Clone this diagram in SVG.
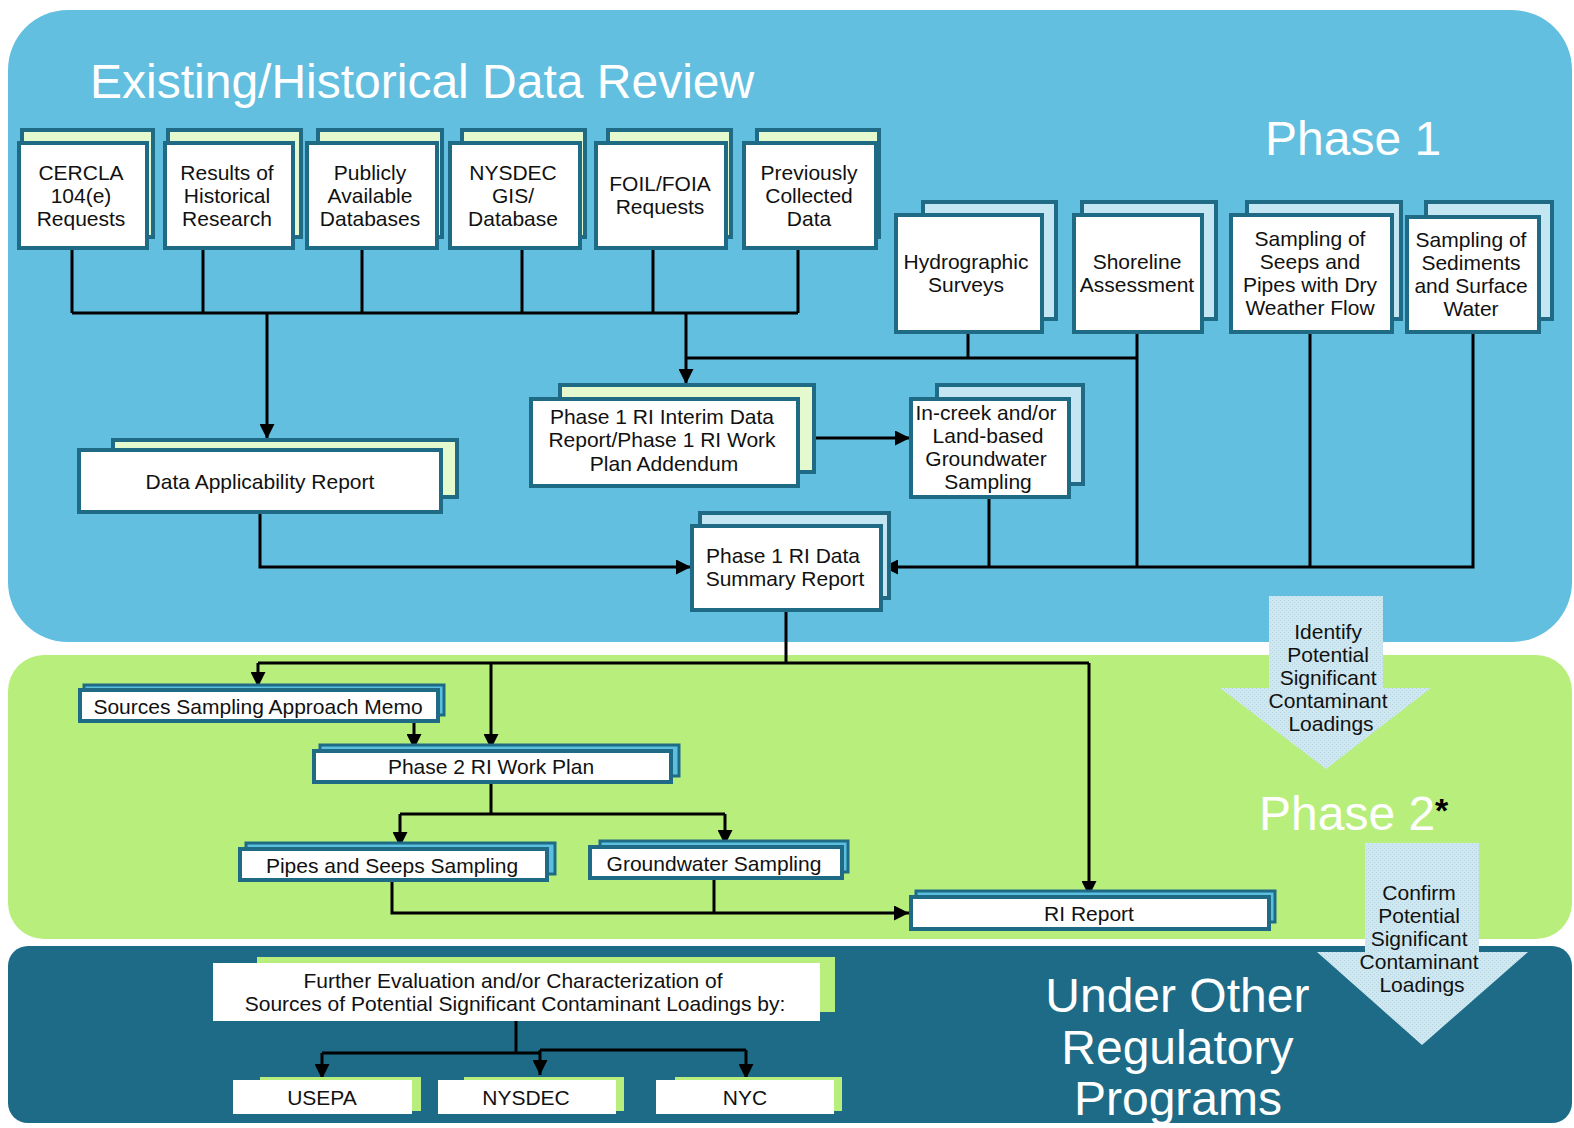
<svg xmlns="http://www.w3.org/2000/svg" width="1574" height="1128" viewBox="0 0 1574 1128">
  <style>
    text { font-family: "Liberation Sans", Arial, sans-serif; }
    .lbl { font-size: 21px; fill: #111; text-anchor: middle; }
    .big { font-size: 48px; fill: #ffffff; }
    .front { fill: #ffffff; stroke: #1f6a85; stroke-width: 4; }
    .backG { fill: #e4f9cd; stroke: #1f6a85; stroke-width: 4; }
    .backB { fill: #c3e6f2; stroke: #1f6a85; stroke-width: 4; }
    .backP { fill: #5bbfe0; stroke: #1f6a85; stroke-width: 3; }
    .plain { fill: #ffffff; }
    .tab { fill: #b8ee7b; }
    .wire { fill: none; stroke: #000; stroke-width: 3; }
    .wire-a { fill: none; stroke: #000; stroke-width: 3; marker-end: url(#arrow); }
    .flow { fill: url(#dots); }
  </style>
  <defs>
    <marker id="arrow" viewBox="0 0 14 14" refX="14" refY="7" markerWidth="15" markerHeight="15" markerUnits="userSpaceOnUse" orient="auto">
      <path d="M0,0 L14,7 L0,14 z" fill="#000"/>
    </marker>
    <pattern id="dots" width="4" height="4" patternUnits="userSpaceOnUse">
      <rect width="4" height="4" fill="#cfe7f0"/>
      <rect x="0" y="0" width="1" height="1" fill="#b4d4e0"/>
      <rect x="2" y="2" width="1" height="1" fill="#b4d4e0"/>
    </pattern>
  </defs>

  <!-- background bands -->
  <rect x="8" y="10" width="1564" height="632" rx="60" ry="60" fill="#62bfe0"/>
  <rect x="8" y="655" width="1564" height="284" rx="36" ry="36" fill="#b8ee7b"/>
  <rect x="8" y="946" width="1564" height="177" rx="20" ry="20" fill="#1d6b86"/>

  <!-- band headings -->
  <text class="big" x="90" y="98">Existing/Historical Data Review</text>
  <text class="big" x="1265" y="155" font-size="47">Phase 1</text>
  <text class="big" x="1259" y="830" font-size="47">Phase 2</text>
  <text x="1435" y="822" font-size="34" font-weight="bold" fill="#000">*</text>
  <text class="big" text-anchor="middle">
    <tspan x="1184" y="1012">Under Other</tspan>
    <tspan x="1184" y="1064">Regulatory</tspan>
    <tspan x="1178" y="1115">Programs</tspan>
  </text>

  <!-- phase transition arrows -->
  <g id="identify-loadings">
    <polygon class="flow" points="1269,596 1383,596 1383,688 1431,688 1326,769 1220,688 1269,688"/>
    <text class="lbl">
      <tspan x="1331" y="639">Identify</tspan>
      <tspan x="1331" y="662">Potential</tspan>
      <tspan x="1331" y="685">Significant</tspan>
      <tspan x="1331" y="708">Contaminant</tspan>
      <tspan x="1331" y="731">Loadings</tspan>
    </text>
  </g>
  <g id="confirm-loadings">
    <polygon class="flow" points="1365,843 1479,843 1479,952 1528,952 1422,1045 1317,952 1365,952"/>
    <text class="lbl">
      <tspan x="1422" y="900">Confirm</tspan>
      <tspan x="1422" y="923">Potential</tspan>
      <tspan x="1422" y="946">Significant</tspan>
      <tspan x="1422" y="969">Contaminant</tspan>
      <tspan x="1422" y="992">Loadings</tspan>
    </text>
  </g>

  <!-- connectors -->
  <g id="connectors">
    <path class="wire" d="M72,248 V313 M203,248 V313 M362,248 V313 M522,248 V313 M653,248 V313 M798,248 V313 M72,313 H798"/>
    <path class="wire-a" d="M267,313 V439"/>
    <path class="wire-a" d="M686,313 V384"/>
    <path class="wire" d="M686,358 H1137 M968,332 V358"/>
    <path class="wire" d="M1137,332 V567 M1310,332 V567 M989,497 V567"/>
    <path class="wire-a" d="M1473,332 V567 H883"/>
    <path class="wire-a" d="M260,512 V567 H691"/>
    <path class="wire-a" d="M795,438 H910"/>
    <path class="wire" d="M786,610 V663 M258,663 H1089"/>
    <path class="wire-a" d="M258,663 V687"/>
    <path class="wire-a" d="M491,663 V749"/>
    <path class="wire-a" d="M1089,663 V896"/>
    <path class="wire-a" d="M414,722 V749"/>
    <path class="wire" d="M491,782 V814 M400,814 H725"/>
    <path class="wire-a" d="M400,814 V847"/>
    <path class="wire-a" d="M725,814 V845"/>
    <path class="wire-a" d="M392,880 V913 H909"/>
    <path class="wire" d="M714,878 V913"/>
    <path class="wire" d="M516,1021 V1052 M322,1053 H540 M540,1050 H746"/>
    <path class="wire-a" d="M322,1053 V1079"/>
    <path class="wire-a" d="M540,1050 V1075"/>
    <path class="wire-a" d="M746,1050 V1079"/>
  </g>

  <!-- existing / historical sources -->
  <g id="cercla">
    <rect class="backG" x="22" y="130" width="131" height="107"/>
    <rect class="front" x="19" y="143" width="128" height="105"/>
    <text class="lbl"><tspan x="81" y="180">CERCLA</tspan><tspan x="81" y="203">104(e)</tspan><tspan x="81" y="226">Requests</tspan></text>
  </g>
  <g id="historical-research">
    <rect class="backG" x="168" y="130" width="133" height="107"/>
    <rect class="front" x="165" y="143" width="128" height="105"/>
    <text class="lbl"><tspan x="227" y="180">Results of</tspan><tspan x="227" y="203">Historical</tspan><tspan x="227" y="226">Research</tspan></text>
  </g>
  <g id="public-databases">
    <rect class="backG" x="318" y="130" width="124" height="107"/>
    <rect class="front" x="307" y="143" width="130" height="105"/>
    <text class="lbl"><tspan x="370" y="180">Publicly</tspan><tspan x="370" y="203">Available</tspan><tspan x="370" y="226">Databases</tspan></text>
  </g>
  <g id="nysdec-gis">
    <rect class="backG" x="462" y="130" width="123" height="107"/>
    <rect class="front" x="450" y="143" width="130" height="105"/>
    <text class="lbl"><tspan x="513" y="180">NYSDEC</tspan><tspan x="513" y="203">GIS/</tspan><tspan x="513" y="226">Database</tspan></text>
  </g>
  <g id="foil-foia">
    <rect class="backG" x="608" y="130" width="123" height="107"/>
    <rect class="front" x="596" y="143" width="130" height="105"/>
    <text class="lbl"><tspan x="660" y="191">FOIL/FOIA</tspan><tspan x="660" y="214">Requests</tspan></text>
  </g>
  <g id="previous-data">
    <rect class="backG" x="757" y="130" width="122" height="107"/>
    <rect class="front" x="744" y="143" width="132" height="105"/>
    <text class="lbl"><tspan x="809" y="180">Previously</tspan><tspan x="809" y="203">Collected</tspan><tspan x="809" y="226">Data</tspan></text>
  </g>

  <!-- phase 1 field investigations -->
  <g id="hydrographic">
    <rect class="backB" x="923" y="202" width="133" height="117"/>
    <rect class="front" x="896" y="215" width="146" height="117"/>
    <text class="lbl"><tspan x="966" y="269">Hydrographic</tspan><tspan x="966" y="292">Surveys</tspan></text>
  </g>
  <g id="shoreline">
    <rect class="backB" x="1082" y="202" width="134" height="117"/>
    <rect class="front" x="1074" y="215" width="128" height="117"/>
    <text class="lbl"><tspan x="1137" y="269">Shoreline</tspan><tspan x="1137" y="292">Assessment</tspan></text>
  </g>
  <g id="seeps-pipes">
    <rect class="backB" x="1247" y="202" width="154" height="117"/>
    <rect class="front" x="1231" y="215" width="161" height="117"/>
    <text class="lbl"><tspan x="1310" y="246">Sampling of</tspan><tspan x="1310" y="269">Seeps and</tspan><tspan x="1310" y="292">Pipes with Dry</tspan><tspan x="1310" y="315">Weather Flow</tspan></text>
  </g>
  <g id="sediments-water">
    <rect class="backB" x="1426" y="202" width="126" height="117"/>
    <rect class="front" x="1407" y="217" width="132" height="115"/>
    <text class="lbl"><tspan x="1471" y="247">Sampling of</tspan><tspan x="1471" y="270">Sediments</tspan><tspan x="1471" y="293">and Surface</tspan><tspan x="1471" y="316">Water</tspan></text>
  </g>

  <!-- phase 1 reports -->
  <g id="data-applicability">
    <rect class="backG" x="113" y="440" width="344" height="57"/>
    <rect class="front" x="79" y="450" width="362" height="62"/>
    <text class="lbl" x="260" y="489">Data Applicability Report</text>
  </g>
  <g id="interim-report">
    <rect class="backG" x="560" y="385" width="254" height="87"/>
    <rect class="front" x="531" y="399" width="267" height="87"/>
    <text class="lbl"><tspan x="662" y="424">Phase 1 RI Interim Data</tspan><tspan x="662" y="447">Report/Phase 1 RI Work</tspan><tspan x="664" y="471">Plan Addendum</tspan></text>
  </g>
  <g id="groundwater-phase1">
    <rect class="backB" x="937" y="385" width="146" height="99"/>
    <rect class="front" x="911" y="399" width="158" height="98"/>
    <text class="lbl"><tspan x="986" y="420">In-creek and/or</tspan><tspan x="988" y="443">Land-based</tspan><tspan x="986" y="466">Groundwater</tspan><tspan x="988" y="489">Sampling</tspan></text>
  </g>
  <g id="data-summary">
    <rect class="backB" x="700" y="513" width="189" height="85"/>
    <rect class="front" x="692" y="526" width="189" height="84"/>
    <text class="lbl"><tspan x="783" y="563">Phase 1 RI Data</tspan><tspan x="785" y="586">Summary Report</tspan></text>
  </g>

  <!-- phase 2 -->
  <g id="sources-memo">
    <rect class="backP" x="84" y="685" width="360" height="30"/>
    <rect class="front" x="80" y="690" width="358" height="31"/>
    <text class="lbl" x="258" y="714">Sources Sampling Approach Memo</text>
  </g>
  <g id="phase2-work-plan">
    <rect class="backP" x="320" y="745" width="359" height="31"/>
    <rect class="front" x="314" y="751" width="357" height="31"/>
    <text class="lbl" x="491" y="774">Phase 2 RI Work Plan</text>
  </g>
  <g id="pipes-seeps">
    <rect class="backP" x="246" y="843" width="309" height="31"/>
    <rect class="front" x="240" y="849" width="307" height="31"/>
    <text class="lbl" x="392" y="873">Pipes and Seeps Sampling</text>
  </g>
  <g id="groundwater-phase2">
    <rect class="backP" x="600" y="841" width="248" height="31"/>
    <rect class="front" x="590" y="847" width="252" height="31"/>
    <text class="lbl" x="714" y="871">Groundwater Sampling</text>
  </g>
  <g id="ri-report">
    <rect class="backP" x="916" y="891" width="359" height="31"/>
    <rect class="front" x="911" y="897" width="358" height="32"/>
    <text class="lbl" x="1089" y="921">RI Report</text>
  </g>

  <!-- other regulatory programs -->
  <g id="further-evaluation">
    <rect class="tab" x="257" y="957" width="578" height="55"/>
    <rect class="plain" x="213" y="963" width="607" height="58"/>
    <text class="lbl"><tspan x="513" y="988">Further Evaluation and/or Characterization of</tspan><tspan x="515" y="1011">Sources of Potential Significant Contaminant Loadings by:</tspan></text>
  </g>
  <g id="usepa">
    <rect class="tab" x="260" y="1077" width="161" height="34"/>
    <rect class="plain" x="233" y="1080" width="179" height="34"/>
    <text class="lbl" x="322" y="1105">USEPA</text>
  </g>
  <g id="nysdec">
    <rect class="tab" x="464" y="1077" width="160" height="34"/>
    <rect class="plain" x="438" y="1080" width="178" height="34"/>
    <text class="lbl" x="526" y="1105">NYSDEC</text>
  </g>
  <g id="nyc">
    <rect class="tab" x="675" y="1077" width="167" height="34"/>
    <rect class="plain" x="656" y="1080" width="178" height="34"/>
    <text class="lbl" x="745" y="1105">NYC</text>
  </g>
</svg>
